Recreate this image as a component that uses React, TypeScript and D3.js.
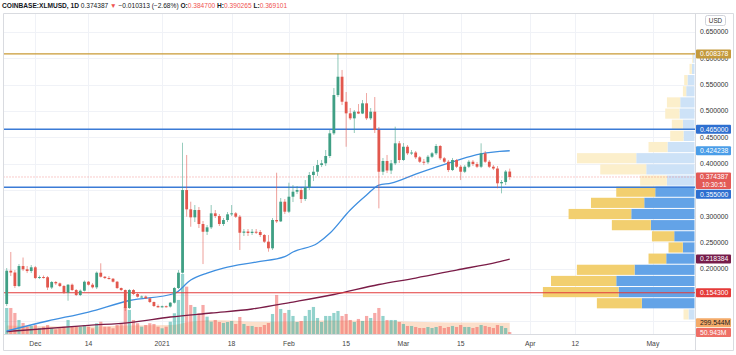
import { useEffect, useRef } from 'react';
import * as d3 from 'd3';

const width = 736;
const height = 355;

// daily candles, first one is 2020-11-24
const startDay = Date.UTC(2020, 10, 24);
const dayMs = 86400000;

const opens = [
  0.1329, 0.1962, 0.1928, 0.1671, 0.2051, 0.1989, 0.1956, 0.2027, 0.1823, 0.1842,
  0.1838, 0.1643, 0.1747, 0.1722, 0.1671, 0.1544, 0.1696, 0.1595, 0.15, 0.1582,
  0.1753, 0.1696, 0.1646, 0.1924, 0.1848, 0.1823, 0.181, 0.1753, 0.1633, 0.1595,
  0.1253, 0.1595, 0.1519, 0.1468, 0.1471, 0.1437, 0.1367, 0.1291, 0.1266, 0.1287,
  0.1281, 0.1354, 0.1633, 0.1924, 0.3496, 0.3129, 0.2977, 0.3116, 0.285, 0.2703,
  0.2787, 0.3053, 0.3002, 0.285, 0.2926, 0.3034, 0.3053, 0.2989, 0.2684, 0.2707,
  0.2679, 0.2703, 0.2698, 0.2641, 0.2514, 0.2388, 0.2926, 0.29, 0.3274, 0.3084,
  0.3369, 0.3464, 0.3496, 0.3325, 0.3548, 0.3781, 0.3844, 0.3971, 0.4004, 0.4143,
  0.4574, 0.5302, 0.565, 0.5175, 0.4954, 0.4859, 0.4985, 0.495, 0.5144, 0.4859,
  0.4985, 0.4637, 0.3844, 0.4048, 0.3867, 0.4004, 0.4384, 0.4067, 0.4319, 0.4194,
  0.4209, 0.4118, 0.4034, 0.4023, 0.4129, 0.4194, 0.4333, 0.4099, 0.4034, 0.3876,
  0.4067, 0.3939, 0.3844, 0.3939, 0.4034, 0.399, 0.3939, 0.4194, 0.4034, 0.3939,
  0.3905, 0.3624, 0.3648, 0.3847,
];
const highs = [
  0.2013, 0.2318, 0.1975, 0.2089, 0.2213, 0.2051, 0.207, 0.2051, 0.1871, 0.1871,
  0.1861, 0.1766, 0.1766, 0.1738, 0.169, 0.1709, 0.1719, 0.1614, 0.1605, 0.1776,
  0.1766, 0.1728, 0.1947, 0.2103, 0.1861, 0.1861, 0.1823, 0.1766, 0.1643, 0.1605,
  0.1614, 0.1614, 0.1538, 0.149, 0.149, 0.1452, 0.1376, 0.1319, 0.13, 0.13,
  0.1367, 0.1652, 0.1975, 0.4395, 0.4162, 0.3274, 0.3211, 0.3173, 0.2907, 0.2831,
  0.3211, 0.3116, 0.304, 0.2964, 0.3078, 0.3211, 0.3078, 0.3021, 0.2755, 0.2755,
  0.2755, 0.2755, 0.2736, 0.266, 0.2641, 0.2964, 0.3825, 0.3344, 0.3325, 0.3635,
  0.3591, 0.3572, 0.3534, 0.3686, 0.3838, 0.3952, 0.4067, 0.4067, 0.4257, 0.4637,
  0.5435, 0.608378, 0.5778, 0.5359, 0.5055, 0.5017, 0.5131, 0.5207, 0.534, 0.5055,
  0.5264, 0.4694, 0.4105, 0.4162, 0.4067, 0.47, 0.4428, 0.439, 0.4352, 0.4257,
  0.4238, 0.4143, 0.4086, 0.4162, 0.4219, 0.4371, 0.4352, 0.4124, 0.4067, 0.4105,
  0.4086, 0.3971, 0.3971, 0.4067, 0.4067, 0.4029, 0.4384, 0.4238, 0.4067, 0.3971,
  0.3952, 0.3686, 0.3876, 0.390265,
];
const lows = [
  0.1291, 0.1861, 0.1633, 0.1652, 0.1956, 0.1918, 0.1918, 0.1804, 0.1804, 0.1814,
  0.1595, 0.1614, 0.169, 0.1652, 0.1519, 0.1392, 0.1576, 0.1481, 0.1481, 0.1567,
  0.1681, 0.1624, 0.1614, 0.1833, 0.1804, 0.1795, 0.1738, 0.1614, 0.1576, 0.1196,
  0.1234, 0.15, 0.1452, 0.1452, 0.1424, 0.1348, 0.1272, 0.1262, 0.1262, 0.1262,
  0.1262, 0.1338, 0.1614, 0.1909, 0.2989, 0.2798, 0.2888, 0.2774, 0.2089, 0.2641,
  0.2755, 0.2964, 0.2812, 0.2812, 0.2888, 0.3002, 0.2964, 0.2356, 0.2622, 0.2622,
  0.2641, 0.266, 0.2603, 0.2489, 0.2323, 0.2356, 0.2869, 0.2888, 0.304, 0.3059,
  0.3268, 0.342, 0.3249, 0.3287, 0.3496, 0.3667, 0.3762, 0.3933, 0.3952, 0.4105,
  0.4542, 0.5264, 0.5112, 0.4319, 0.4827, 0.458, 0.494, 0.494, 0.4827, 0.4827,
  0.458, 0.3148, 0.3781, 0.3819, 0.38, 0.3971, 0.401, 0.4048, 0.4162, 0.4162,
  0.4086, 0.401, 0.3971, 0.399, 0.4105, 0.4162, 0.4067, 0.401, 0.3838, 0.3857,
  0.3914, 0.3686, 0.3819, 0.3914, 0.3952, 0.3914, 0.3914, 0.401, 0.3914, 0.3876,
  0.3529, 0.3433, 0.3591, 0.369101,
];
const closes = [
  0.1962, 0.1928, 0.1671, 0.2051, 0.1989, 0.1956, 0.2027, 0.1823, 0.1842, 0.1838,
  0.1643, 0.1747, 0.1722, 0.1671, 0.1544, 0.1696, 0.1595, 0.15, 0.1582, 0.1753,
  0.1696, 0.1646, 0.1924, 0.1848, 0.1823, 0.181, 0.1753, 0.1633, 0.1595, 0.1253,
  0.1595, 0.1519, 0.1468, 0.1471, 0.1437, 0.1367, 0.1291, 0.1266, 0.1287, 0.1281,
  0.1354, 0.1633, 0.1924, 0.3496, 0.3129, 0.2977, 0.3116, 0.285, 0.2703, 0.2787,
  0.3053, 0.3002, 0.285, 0.2926, 0.3034, 0.3053, 0.2989, 0.2684, 0.2707, 0.2679,
  0.2703, 0.2698, 0.2641, 0.2514, 0.2388, 0.2926, 0.29, 0.3274, 0.3084, 0.3369,
  0.3464, 0.3496, 0.3325, 0.3548, 0.3781, 0.3844, 0.3971, 0.4004, 0.4143, 0.4574,
  0.5302, 0.565, 0.5175, 0.4954, 0.4859, 0.4985, 0.495, 0.5144, 0.4859, 0.4985,
  0.4637, 0.3844, 0.4048, 0.3867, 0.4004, 0.4384, 0.4067, 0.4319, 0.4194, 0.4209,
  0.4118, 0.4034, 0.4023, 0.4129, 0.4194, 0.4333, 0.4099, 0.4034, 0.3876, 0.4067,
  0.3939, 0.3844, 0.3939, 0.4034, 0.399, 0.3939, 0.4194, 0.4034, 0.3939, 0.3905,
  0.3624, 0.3648, 0.3847, 0.374387,
];
// volume in millions
const volumes = [
  694, 694, 561, 374, 294, 195, 214, 240, 160, 195,
  240, 152, 125, 152, 195, 374, 214, 195, 195, 240,
  195, 152, 286, 328, 195, 195, 152, 240, 286, 721,
  641, 374, 286, 195, 240, 286, 267, 195, 152, 195,
  328, 553, 908, 1602, 1263, 774, 721, 553, 774, 462,
  328, 374, 320, 294, 320, 347, 267, 454, 267, 214,
  214, 187, 187, 240, 294, 534, 1041, 668, 561, 641,
  481, 320, 347, 481, 641, 721, 427, 320, 481, 481,
  561, 614, 481, 534, 374, 320, 401, 347, 481, 427,
  561, 694, 481, 374, 374, 374, 320, 267, 214, 214,
  187, 160, 160, 187, 160, 187, 214, 160, 187, 214,
  187, 240, 187, 187, 160, 187, 240, 214, 187, 160,
  240, 214, 160, 50.943,
];

// moving averages (day index, value)
const fastMaDays = [0, 10, 20, 30, 41, 45, 49, 53, 61, 68, 70, 76, 79, 84, 88, 91, 94, 100, 105, 110, 115, 120, 123];
const fastMaValues = [
  0.0816, 0.1006, 0.1177, 0.1396, 0.1529, 0.1785, 0.1918, 0.2013, 0.2127, 0.2228, 0.2317, 0.2483,
  0.2673, 0.3116, 0.3401, 0.3591, 0.3629, 0.38, 0.3933, 0.4057, 0.4171, 0.4228, 0.424238,
];
const slowMaDays = [0, 20, 30, 40, 50, 60, 70, 80, 91, 100, 110, 120, 123];
const slowMaValues = [0.0806, 0.0924, 0.0977, 0.1082, 0.1158, 0.1234, 0.1367, 0.151, 0.17, 0.1823, 0.1975, 0.2127, 0.218384];
const volMaDays = [0, 10, 20, 30, 40, 45, 50, 55, 60, 66, 72, 78, 84, 90, 96, 102, 108, 114, 120, 123];
const volMaValues = [230, 210, 200, 230, 240, 330, 370, 360, 330, 330, 340, 360, 360, 350, 340, 320, 310, 305, 300, 299.544];

const levelPrices = [0.608378, 0.465, 0.355, 0.1543];
const levelColors = ['#c99a35', '#3b7bd6', '#3b7bd6', '#e23b3b'];

const priceTicks = [0.1, 0.15, 0.2, 0.25, 0.3, 0.35, 0.4, 0.45, 0.5, 0.55, 0.6, 0.65];
// tick texts that sit under a value tag on the axis
const coveredTicks = [0.1, 0.15, 0.35];
const tickDates = [
  [2020, 11, 1], [2020, 11, 14], [2021, 0, 1], [2021, 0, 18], [2021, 1, 1], [2021, 1, 15],
  [2021, 2, 1], [2021, 2, 15], [2021, 3, 1], [2021, 3, 12], [2021, 4, 1],
];
const tickLabels = ['Dec', '14', '2021', '18', 'Feb', '15', 'Mar', '15', 'Apr', '12', 'May'];

// visible range volume profile, rows from top to bottom
const profileHigh = 0.6116;
const profileLow = 0.1025;
const profileUp = [13, 27, 70, 83, 143, 150, 117, 110, 270, 583, 483, 277, 393, 503, 633, 437, 203, 117, 283, 600, 783, 760, 527, 60];
const profileDown = [10, 23, 33, 33, 133, 143, 110, 133, 190, 593, 460, 267, 390, 533, 627, 390, 223, 143, 177, 577, 653, 757, 450, 50];
const valueAreaRows = [12, 22];

function App() {
  const svgRef = useRef(null);

  useEffect(() => {
    const svg = d3.select(svgRef.current);
    svg.selectAll('*').remove();

    const font = '"Liberation Sans", Arial, sans-serif';
    const plot = { left: 3.5, right: 695.5, top: 13.5, bottom: 334.5 };

    const x = d3
      .scaleUtc()
      .domain([new Date(startDay), new Date(startDay + 168.3 * dayMs)])
      .range([6.7, 695]);
    const y = d3.scaleLinear().domain([0.0759, 0.6852]).range([334, 13.5]);
    const yVol = d3.scaleLinear().domain([0, 1600]).range([334, 274]);
    const dayX = (i) => x(new Date(startDay + i * dayMs));

    const up = '#3f9f84';
    const down = '#e2574d';

    svg.append('rect').attr('width', width).attr('height', height).attr('fill', '#fff');

    svg
      .append('defs')
      .append('clipPath')
      .attr('id', 'plotclip')
      .append('rect')
      .attr('x', plot.left)
      .attr('y', plot.top)
      .attr('width', plot.right - plot.left)
      .attr('height', plot.bottom - plot.top);

    const g = svg.append('g').attr('clip-path', 'url(#plotclip)');

    // grid
    g.selectAll('line.hgrid')
      .data(priceTicks)
      .join('line')
      .attr('x1', plot.left)
      .attr('x2', plot.right)
      .attr('y1', (d) => Math.round(y(d)) + 0.5)
      .attr('y2', (d) => Math.round(y(d)) + 0.5)
      .attr('stroke', '#f0f2f7');
    const tickX = tickDates.map((d) => x(new Date(Date.UTC(d[0], d[1], d[2]))));
    g.selectAll('line.vgrid')
      .data(tickX)
      .join('line')
      .attr('x1', (d) => Math.round(d) + 0.5)
      .attr('x2', (d) => Math.round(d) + 0.5)
      .attr('y1', plot.top)
      .attr('y2', plot.bottom)
      .attr('stroke', '#f0f2f7');

    // volume MA area + volume bars
    const volArea = d3
      .area()
      .curve(d3.curveMonotoneX)
      .x((d) => dayX(d[0]))
      .y0(yVol(0))
      .y1((d) => yVol(d[1]));
    g.append('path')
      .attr('d', volArea(volMaDays.map((d, i) => [d, volMaValues[i]])))
      .attr('fill', '#f7b07a')
      .attr('opacity', 0.4);

    g.selectAll('rect.vol')
      .data(volumes)
      .join('rect')
      .attr('x', (_, i) => dayX(i) - 1.6)
      .attr('width', 3.2)
      .attr('y', (d) => yVol(d))
      .attr('height', (d) => yVol(0) - yVol(d))
      .attr('fill', (_, i) => (closes[i] >= opens[i] ? '#26a69a' : '#ef5350'))
      .attr('opacity', 0.5);

    // volume profile
    const rowStep = (profileHigh - profileLow) / profileUp.length;
    const maxRow = d3.max(profileUp.map((v, i) => v + profileDown[i]));
    const pw = d3.scaleLinear().domain([0, maxRow]).range([0, 151.6]);
    const edge = 694.5;
    profileUp.forEach((u, k) => {
      const top = y(profileHigh - k * rowStep) + 0.5;
      const bot = y(profileHigh - (k + 1) * rowStep) - 0.5;
      const inVA = k >= valueAreaRows[0] && k <= valueAreaRows[1];
      g.append('rect')
        .attr('x', edge - pw(u))
        .attr('y', top)
        .attr('width', pw(u))
        .attr('height', bot - top)
        .attr('fill', inVA ? '#63a3e7' : '#cde2f7');
      g.append('rect')
        .attr('x', edge - pw(u) - pw(profileDown[k]))
        .attr('y', top)
        .attr('width', pw(profileDown[k]))
        .attr('height', bot - top)
        .attr('fill', inVA ? '#f2cf6f' : '#fcefcb');
    });

    // moving averages
    const maLine = d3
      .line()
      .curve(d3.curveMonotoneX)
      .x((d) => dayX(d[0]))
      .y((d) => y(d[1]));
    g.append('path')
      .attr('d', maLine(slowMaDays.map((d, i) => [d, slowMaValues[i]])))
      .attr('fill', 'none')
      .attr('stroke', '#7a1c47')
      .attr('stroke-width', 1.3);
    g.append('path')
      .attr('d', maLine(fastMaDays.map((d, i) => [d, fastMaValues[i]])))
      .attr('fill', 'none')
      .attr('stroke', '#3f8fe0')
      .attr('stroke-width', 1.3);

    // horizontal levels
    g.selectAll('line.level')
      .data(levelPrices)
      .join('line')
      .attr('x1', plot.left)
      .attr('x2', plot.right)
      .attr('y1', (d) => y(d))
      .attr('y2', (d) => y(d))
      .attr('stroke', (_, i) => levelColors[i])
      .attr('stroke-width', (_, i) => (i === 1 || i === 2 ? 1.5 : 1.2));

    const last = closes[closes.length - 1];
    g.append('line')
      .attr('x1', plot.left)
      .attr('x2', plot.right)
      .attr('y1', y(last))
      .attr('y2', y(last))
      .attr('stroke', '#ef5350')
      .attr('stroke-dasharray', '1 2')
      .attr('opacity', 0.6);

    // candles
    const candles = g
      .selectAll('g.candle')
      .data(closes)
      .join('g')
      .attr('fill', (d, i) => (d >= opens[i] ? up : down))
      .attr('stroke', (d, i) => (d >= opens[i] ? up : down));
    candles
      .append('line')
      .attr('x1', (_, i) => dayX(i))
      .attr('x2', (_, i) => dayX(i))
      .attr('y1', (_, i) => y(highs[i]))
      .attr('y2', (_, i) => y(lows[i]))
      .attr('stroke-width', 0.8)
      .attr('opacity', 0.7);
    candles
      .append('rect')
      .attr('stroke', 'none')
      .attr('x', (_, i) => dayX(i) - 1.4)
      .attr('width', 2.8)
      .attr('y', (d, i) => y(Math.max(d, opens[i])))
      .attr('height', (d, i) => Math.max(1, Math.abs(y(d) - y(opens[i]))));

    // frame and axes
    const frame = '#d9dbe0';
    const lines = [
      [plot.left, plot.top, 733.5, plot.top],
      [plot.left, plot.top, plot.left, 350.5],
      [plot.left, 350.5, 733.5, 350.5],
      [733.5, plot.top, 733.5, 350.5],
      [plot.right, plot.top, plot.right, 350.5],
      [plot.left, plot.bottom, plot.right, plot.bottom],
    ];
    svg
      .selectAll('line.frame')
      .data(lines)
      .join('line')
      .attr('x1', (d) => d[0])
      .attr('y1', (d) => d[1])
      .attr('x2', (d) => d[2])
      .attr('y2', (d) => d[3])
      .attr('stroke', frame);

    svg
      .selectAll('text.ptick')
      .data(priceTicks.filter((d) => !coveredTicks.includes(d)))
      .join('text')
      .attr('x', 700)
      .attr('y', (d) => y(d) + 2.4)
      .attr('font-family', font)
      .attr('font-size', 6.8)
      .attr('fill', '#333')
      .text((d) => d.toFixed(6));

    svg
      .selectAll('text.dtick')
      .data(tickLabels)
      .join('text')
      .attr('x', (_, i) => tickX[i])
      .attr('y', 345.5)
      .attr('text-anchor', 'middle')
      .attr('font-family', font)
      .attr('font-size', 6.8)
      .attr('fill', '#444')
      .text((d) => d);

    svg
      .append('rect')
      .attr('x', 705.5)
      .attr('y', 15.5)
      .attr('width', 20)
      .attr('height', 10)
      .attr('rx', 2)
      .attr('fill', '#fff')
      .attr('stroke', '#d0d3da');
    svg
      .append('text')
      .attr('x', 715.5)
      .attr('y', 22.8)
      .attr('text-anchor', 'middle')
      .attr('font-family', font)
      .attr('font-size', 6.3)
      .attr('fill', '#333')
      .text('USD');

    // right side value labels
    const boxH = 9;
    const lastBoxTop = y(last) - boxH / 2;
    const lastBoxH = 16.5;
    const volMaLast = volMaValues[volMaValues.length - 1];
    const volMaBoxTop = yVol(volMaLast) - boxH / 2;
    const tags = [
      { top: y(0.608378) - boxH / 2, text: '0.608378', bg: '#c49a3c', fg: '#fff' },
      { top: y(0.465) - boxH / 2, text: '0.465000', bg: '#2e6fd0', fg: '#fff' },
      { top: y(0.424238) - boxH / 2, text: '0.424238', bg: '#4a9de8', fg: '#fff' },
      { top: lastBoxTop + lastBoxH + 0.8, text: '0.355000', bg: '#2e6fd0', fg: '#fff' },
      { top: y(0.218384) - boxH / 2, text: '0.218384', bg: '#761c4a', fg: '#fff' },
      { top: y(0.1543) - boxH / 2, text: '0.154300', bg: '#e53b39', fg: '#fff' },
      { top: volMaBoxTop, text: volMaLast.toFixed(3) + 'M', bg: '#f4ab69', fg: '#222' },
      { top: volMaBoxTop + boxH + 0.8, text: volumes[volumes.length - 1].toFixed(3) + 'M', bg: '#ee6f66', fg: '#fff' },
    ];
    const tagG = svg.selectAll('g.tag').data(tags).join('g');
    tagG
      .append('rect')
      .attr('x', 696)
      .attr('y', (d) => d.top)
      .attr('width', 35)
      .attr('height', boxH)
      .attr('rx', 1)
      .attr('fill', (d) => d.bg);
    tagG
      .append('text')
      .attr('x', 700)
      .attr('y', (d) => d.top + boxH / 2 + 2.4)
      .attr('font-family', font)
      .attr('font-size', 6.8)
      .attr('fill', (d) => d.fg)
      .text((d) => d.text);

    svg
      .append('rect')
      .attr('x', 696)
      .attr('y', lastBoxTop)
      .attr('width', 35)
      .attr('height', lastBoxH)
      .attr('rx', 1)
      .attr('fill', '#e35a56');
    svg
      .append('text')
      .attr('x', 700)
      .attr('y', y(last) + 2.4)
      .attr('font-family', font)
      .attr('font-size', 6.8)
      .attr('fill', '#fff')
      .text(last.toFixed(6));
    svg
      .append('text')
      .attr('x', 702)
      .attr('y', y(last) + 9.8)
      .attr('font-family', font)
      .attr('font-size', 6.3)
      .attr('fill', '#fff')
      .text('10:30:51');

    // header
    const prev = closes[closes.length - 2];
    const change = last - prev;
    const header = svg
      .append('text')
      .attr('x', 2)
      .attr('y', 7.6)
      .attr('font-family', font)
      .attr('font-size', 6.6)
      .attr('fill', '#131722');
    header.append('tspan').attr('font-weight', 700).text('COINBASE:XLMUSD, 1D ');
    header.append('tspan').text(last.toFixed(6) + ' ');
    header.append('tspan').attr('fill', '#ef5350').text('▼ ');
    header
      .append('tspan')
      .text(
        '\u2212' + Math.abs(change).toFixed(6) + ' (\u2212' + Math.abs((change / prev) * 100).toFixed(2) + '%) '
      );
    const ohl = [
      ['O:', opens[opens.length - 1]],
      ['H:', highs[highs.length - 1]],
      ['L:', lows[lows.length - 1]],
    ];
    ohl.forEach((d) => {
      header.append('tspan').attr('font-weight', 700).text(d[0]);
      header.append('tspan').attr('fill', '#ef5350').text(d[1].toFixed(6) + ' ');
    });
  }, []);

  return (
    <svg
      ref={svgRef}
      width={width}
      height={height}
      style={{ position: 'absolute', left: 0, top: 0, display: 'block' }}
    ></svg>
  );
}

export default App;
